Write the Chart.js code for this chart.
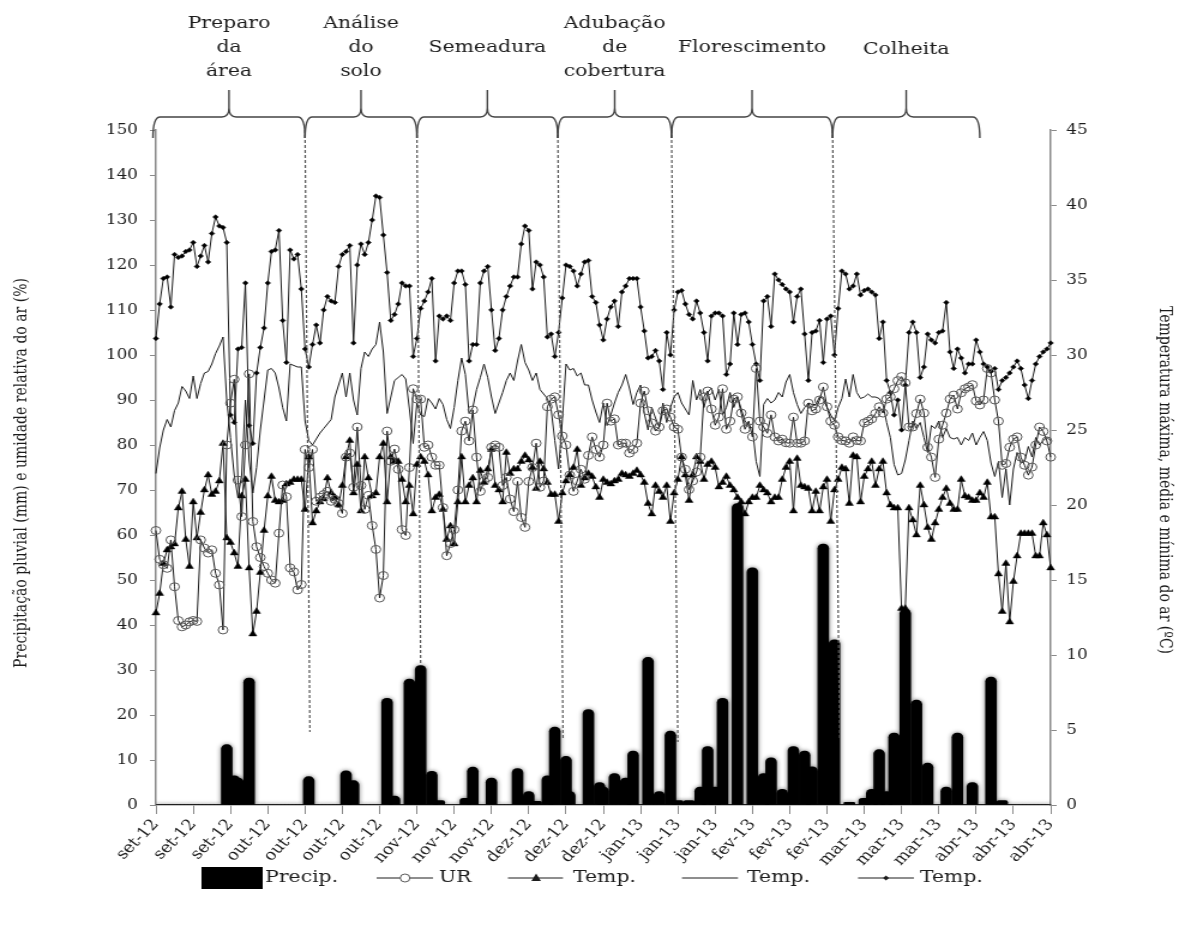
<!DOCTYPE html>
<html>
<head>
<meta charset="utf-8">
<script src="https://cdn.jsdelivr.net/npm/chart.js@4.4.1/dist/chart.umd.min.js"></script>
<style>
  html, body { margin: 0; padding: 0; background: #fff; overflow: hidden; }
  /* the original figure is stretched sideways, so the whole canvas is too */
  #wrap { width: 988px; height: 944px; transform: scaleX(1.19939); transform-origin: 0 0; }
</style>
</head>
<body>
<div id="wrap"><canvas id="chart" width="988" height="944"></canvas></div>
<script>
// eixo x: um ponto por dia, rótulo a cada 10 dias
const tickLabels = ['set-12','set-12','set-12','out-12','out-12','out-12','out-12',
  'nov-12','nov-12','nov-12','dez-12','dez-12','dez-12','jan-13','jan-13','jan-13',
  'fev-13','fev-13','fev-13','mar-13','mar-13','mar-13','abr-13','abr-13','abr-13'];

// precipitação pluvial (mm)
const precip = [
  0,0,0,0,0,0,0,0,0,0,
  0,0,0,0,0,0,0,0,0,13.4,
  0,6.5,6,0,0,28.2,0,0,0,0,
  0,0,0,0,0,0,0,0,0,0,
  0,6.3,0,0,0,0,0,0,0,0,
  0,7.6,0,5.4,0,0,0,0,0,0,
  0,0,23.7,0,2,0,0,0,28,0,
  0,31,0,0,7.5,0,1,0,0,0,
  0,0,0,1.5,0,8.4,0,0,0,0,
  6,0,0,0,0,0,0,8.1,0,0,
  3,0,0.8,0,0,6.5,0,17.3,0,0,
  10.8,3,0,0,0,0,21.2,0,0,5,
  4,0,0,7,0,0,6,0,12,0,
  0,0,32.8,0,0,3,0,0,16.4,0,
  1,0,0,1,0,0,4,0,13,0,
  4,0,23.7,0,0,0,67,0,0,0,
  52.7,0,0,7,0,10.5,0,0,3.5,0,
  0,13,0,0,12,0,8.5,0,0,58,
  0,0,36.7,0,0,0,0.6,0,0,0,
  1.5,0,3.5,0,12.3,0,3,0,16,0,
  0,43.5,0,0,23.3,0,0,9.3,0,0,
  0,0,4,0,0,16,0,0,0,5,
  0,0,0,0,28.4,0,0,1,0,0,
  0,0,0,0,0,0,0,0,0,0,
  0
];

// umidade relativa do ar (%)
const ur = [
  61,54.6,53.4,52.6,58.9,48.5,41,39.6,40,40.7,
  41,40.8,58.9,57.1,56,56.7,51.5,48.9,38.9,80,
  89.3,94.6,72.2,64.1,80,95.8,63,57.4,55,53,
  51.5,50,49.3,60.4,71.1,68.5,52.7,51.8,47.8,49,
  79,75,79,67.5,68.4,69,69.7,67.5,67.9,67,
  64.8,77.3,78.2,70.6,84,71,65.7,68.8,62.1,56.8,
  46,51,83.1,76.4,79.1,74.6,61.2,59.9,75,92.5,
  90.2,90.2,79.5,80,77.3,75.5,75.5,66.1,55.4,58.1,
  61.2,70,83.1,85.3,80.9,87.8,77.3,69.7,72,72.8,
  79.5,80,79.5,71,72.8,68,65.2,71.9,63.9,61.7,
  71.9,75,80.4,70.6,72,88.5,90.2,90.7,86.7,82,
  80,73.3,69.7,72,74.6,72.4,77.7,81.8,79,77.3,
  80,89.3,85.3,85.8,80,80.4,80.4,78.2,79,80.4,
  89.3,92,87.6,84.9,83.1,84,87.6,88,86.2,84,
  83.5,77.3,74.6,70.1,72,74,77.3,90.7,92,88,
  84.4,86.2,92.5,83.5,85.3,90.2,90.7,87.1,83.5,85.3,
  81.8,97,85.3,84,82.6,86.7,81.8,80.9,81.3,80.5,
  80.4,86.2,80.4,80.4,80.9,89.3,87.6,88,90,92.9,
  88.5,85.3,84.4,81.8,81,80.9,80.4,81.8,81,80.9,
  84.9,85.3,85.8,87,88.5,87.1,90.2,90.7,92.5,94.3,
  95.2,93.8,84,84,87,90.2,87.1,79.5,77.3,72.8,
  81.3,84.4,87.1,90.2,91.1,88,91.6,92.5,92.9,93.4,
  89.8,88.9,90,97,96,90,85.3,75.5,75.9,79.5,
  81.3,81.8,77.3,75.5,73.3,75.1,80,84,83,80.9,
  77.3
];

// temperatura mínima (ºC)
const tMin = [
  12.8,14.1,16.1,17,17.2,17.4,19.8,20.9,17.7,15.9,
  20.2,17.8,19.5,21,22,20.7,20.9,21.6,24.1,17.8,
  17.5,16.8,15.9,20.6,21.7,15.8,11.4,12.9,15.5,18.3,
  20.6,21.9,20.3,20.2,20.3,21.4,21.5,21.7,21.7,21.7,
  19.7,23.2,18.8,19.6,20.2,20.4,21.8,20.8,20.5,20,
  21.3,23.2,24.3,20.8,22.7,19.6,23.2,21.8,20.6,20.8,
  23.2,24.1,20.2,23.2,22.9,22.9,21.7,20.2,21.3,19.4,
  22.7,23.2,22.9,22,19.6,20.5,20.7,19.7,17.7,18.6,
  17.4,20.2,23.2,20.2,21.3,21.8,20.2,22.3,21.5,22.4,
  23.7,21.3,21,20.2,23.5,22.1,22.4,22.4,22.9,23.3,
  23,22.5,21.1,22.9,22.4,21.5,20.7,20.7,18.9,20.8,
  21.6,22,22.5,23.7,21.3,21.8,22.1,21.9,21.2,20.5,
  21.7,21.5,21.4,21.6,21.7,22.1,22,21.9,22.1,22.3,
  22,21.5,20.1,19.4,21.3,20.9,20.5,21.3,18.9,20.8,
  21.7,23.2,22,20.3,22,23.2,22.9,21.7,22.7,22.9,
  22.5,21.2,21.5,21.9,21.3,21,20.5,20.2,19.4,20.2,
  20.5,20.5,21.3,21,20.8,20.2,20.5,20.5,21.7,22.5,
  22.9,19.6,23.1,21.3,21.2,21.1,19.6,20.9,19.6,21.2,
  21.7,18.9,21,21.7,22.5,22.4,20.1,23.3,23.2,20.2,
  21.9,22.4,22.9,21.3,22.4,22.9,20.8,20,19.8,19.8,
  13.1,13.1,19.8,19,18,21.3,20,18.5,17.7,18.8,
  19.7,20.5,21.1,20.1,19.7,19.7,21.7,20.6,20.5,20.3,
  20.3,20.8,20.5,21.5,19.2,19.2,15.4,12.9,16.1,12.2,
  14.9,16.6,18.1,18.1,18.1,18.1,16.6,16.6,18.8,18,
  15.8
];

// temperatura média (ºC)
const tMean = [
  22.1,23.8,25,25.7,25.2,26.3,26.8,27.9,27.6,27.1,
  28.6,27.1,28.1,28.8,28.9,29.4,30.1,30.6,31.2,27,
  24.5,22,20.5,22,27,23,20.8,22.5,25,27,
  29,29.1,28.8,27.8,26.5,25.6,29.4,29.3,29.2,29.2,
  25.6,24.3,24,24.4,24.8,25.1,25.4,25.7,27.2,28,
  28.8,27.2,28.8,27,26,29.1,30.2,29.9,30.4,30.7,
  32.2,30.2,26.1,27.2,28.3,28.5,28.7,28.4,26.4,24.1,
  26.8,26,25.9,27.1,26.8,26.4,27.1,26.7,25.7,25.1,
  26.5,28.3,29.8,28.7,26.1,26.5,27.7,28.5,29.4,28.5,
  27.2,26.1,26.8,27.5,28.3,28.8,28.3,29.6,30.7,29.5,
  29,28.3,28.8,27.7,27.4,27.1,26.4,24.3,22.4,25.6,
  29.4,29,29.1,28.6,28.8,28,28,27,26.2,25.5,
  26.8,25.3,26,26.8,27.5,28,28.7,27.8,26.7,27.5,
  28,26.1,25,26.5,25.8,25.2,26.8,25.5,26.5,27.2,
  27.5,26.8,26.4,26,28.3,27,27.7,26.5,27.5,27.8,
  27,27.7,26,26.5,27.5,26.5,27.2,26.4,25.6,25.3,
  25.1,22.9,21.9,26.7,27.1,26.8,27,27.5,27.2,28.2,
  28.7,27.5,26.7,26.1,26.5,26.8,26.7,26.7,27.2,27.1,
  26.5,26,25.6,26.5,27.1,28.4,27.2,28.7,27.5,27.1,
  27.2,27.4,27.2,27.2,27.1,26.7,25.5,24.5,22.7,22,
  22.1,23,24.3,25.6,25.1,25.5,24.5,23.5,25.3,25.1,
  25.6,24.5,25.1,24.5,24.4,24.5,24,24.5,24.3,24.8,
  24,24.5,24.9,24.3,22.8,21.9,22.9,20.5,22.4,20,
  22.4,23.5,22.8,22.9,23.9,23.2,24.5,24,24.3,24.5,
  24.3
];

// temperatura máxima (ºC)
const tMax = [
  31.1,33.4,35.1,35.2,33.2,36.7,36.5,36.6,36.9,37,
  37.5,35.9,36.6,37.3,36.2,38.1,39.2,38.6,38.5,37.5,
  26,25.5,30.4,30.5,34.8,25.3,24.1,28.8,30.5,31.8,
  34.8,36.9,37,38.3,32.3,29.5,37,36.4,36.7,34.4,
  30.4,29.2,30.7,32,30.8,33,33.9,33.6,33.5,35.9,
  36.7,36.9,37.3,30.8,36,37.4,36.7,37.5,39,40.6,
  40.5,38,35.5,32.3,32.7,33.4,34.8,34.6,34.6,29.9,
  31.1,33.1,33.6,34.2,35.1,29.6,32.6,32.4,32.6,32.3,
  34.8,35.6,35.6,34.7,29.6,30.7,30.7,34.8,35.6,35.9,
  33,30.3,31.1,33,33.9,34.6,35.2,35.2,37.4,38.6,
  38.3,34.4,36.2,36,35.2,31.2,31.4,29.9,31.5,33.8,
  36,35.9,35.6,34.6,35.4,36.2,36.3,33.9,33.5,32,
  31,32.4,33.2,33.6,31.9,34.2,34.6,35.1,35.1,35.1,
  33.2,31.6,29.8,29.9,30.3,29.6,27.7,31.5,30,33,
  34.2,34.3,33.4,32.7,32.4,33.6,32.8,31.5,29.6,32.6,
  32.8,32.8,32.6,28.7,29.4,32.8,30.7,32.7,32.8,32.2,
  30.7,29.4,28.3,33.6,33.9,31.9,35.4,35,34.7,34.4,
  34.2,32.2,33.9,34.4,31.4,28.3,31.5,31.6,32.3,29.5,
  32.4,32.6,30,33.1,35.6,35.4,34.4,34.6,35.4,34,
  34.3,34.4,34.2,34,31.1,32.2,28.3,27.5,26,27,
  25,28,31.5,32.2,31.5,28.5,29.2,31.4,31,30.8,
  31.5,31.6,33.5,30.2,29.1,30.4,29.8,28.8,29.4,29.4,
  31,30.2,29.4,29.2,28.9,29.1,27.7,28.3,28.5,28.8,
  29.2,29.6,29.1,28,27.1,28.3,29.4,29.9,30.2,30.4,
  30.8
];

// fases do ciclo (em dias a partir de 1/set)
const phases = [
  { lines: ['Preparo', 'da', 'área'], from: -0.8, to: 40 },
  { lines: ['Análise', 'do', 'solo'], from: 40, to: 70 },
  { lines: ['Semeadura'], from: 70, to: 107.8 },
  { lines: ['Adubação', 'de', 'cobertura'], from: 107.8, to: 138.3 },
  { lines: ['Florescimento'], from: 138.3, to: 181.5 },
  { lines: ['Colheita'], from: 181.5, to: 221 }
];
// linhas tracejadas: [dia no topo, dia na base, valor na base]
const dividers = [[40, 41.3, 16.2], [70, 71, 31.3], [107.8, 109.2, 14.9], [138.3, 140, 14], [181.5, 183.4, 14.9]];

const days = precip.map((_, i) => i);
const FONT = 'DejaVu Serif';
const AXIS = '#8a8a8a';
const INK = '#1c1c1c';

Chart.defaults.font.family = FONT;
Chart.defaults.color = INK;

const barShadow = {
  id: 'barShadow',
  beforeDatasetDraw(chart, args) {
    if (args.meta.type !== 'bar') return;
    const ctx = chart.ctx;
    ctx.save();
    ctx.shadowColor = 'rgba(0,0,0,0.55)';
    ctx.shadowBlur = 4;
  },
  afterDatasetDraw(chart, args) {
    if (args.meta.type === 'bar') chart.ctx.restore();
  }
};

function drawBrace(ctx, x0, x1) {
  const yLine = 117, yEnd = 138, yTip = 90, r = 6;
  const xm = (x0 + x1) / 2;
  ctx.beginPath();
  ctx.moveTo(x0, yEnd);
  ctx.quadraticCurveTo(x0, yLine, x0 + r, yLine);
  ctx.lineTo(xm - r, yLine);
  ctx.quadraticCurveTo(xm, yLine, xm, yLine - 9);
  ctx.lineTo(xm, yTip);
  ctx.moveTo(xm, yLine - 9);
  ctx.quadraticCurveTo(xm, yLine, xm + r, yLine);
  ctx.lineTo(x1 - r, yLine);
  ctx.quadraticCurveTo(x1, yLine, x1, yEnd);
  ctx.stroke();
}

const decor = {
  id: 'decor',
  afterDatasetsDraw(chart) {
    const { ctx, scales: { x, y } } = chart;
    ctx.save();
    ctx.strokeStyle = '#555';
    ctx.lineWidth = 1.2;
    ctx.setLineDash([3, 2]);
    dividers.forEach(([d0, d1, v]) => {
      ctx.beginPath();
      ctx.moveTo(x.getPixelForValue(d0), chart.chartArea.top);
      ctx.lineTo(x.getPixelForValue(d1), y.getPixelForValue(v));
      ctx.stroke();
    });
    ctx.restore();
  },
  afterDraw(chart) {
    const { ctx, scales: { x } } = chart;
    ctx.save();
    // chaves e rótulos das fases
    ctx.strokeStyle = '#444';
    ctx.lineWidth = 1.4;
    ctx.fillStyle = INK;
    ctx.textAlign = 'center';
    ctx.textBaseline = 'alphabetic';
    ctx.font = `17px "${FONT}"`;
    phases.forEach(p => {
      const x0 = x.getPixelForValue(p.from), x1 = x.getPixelForValue(p.to);
      drawBrace(ctx, x0, x1);
      const xm = (x0 + x1) / 2;
      if (p.lines.length === 3) {
        p.lines.forEach((t, i) => ctx.fillText(t, xm, 28 + i * 24));
      } else {
        ctx.fillText(p.lines[0], xm, p.lines[0] === 'Colheita' ? 54 : 52);
      }
    });

    // títulos dos eixos
    ctx.font = `14px "${FONT}"`;
    ctx.textBaseline = 'middle';
    ctx.save();
    ctx.translate(18, 473);
    ctx.rotate(-Math.PI / 2);
    ctx.fillText('Precipitação pluvial (mm) e umidade relativa do ar (%)', 0, 0);
    ctx.restore();
    ctx.save();
    ctx.translate(971, 480);
    ctx.rotate(Math.PI / 2);
    ctx.fillText('Temperatura máxima, média e mínima do ar (ºC)', 0, 0);
    ctx.restore();

    // legenda
    const ly = 878;
    ctx.font = `17px "${FONT}"`;
    ctx.textAlign = 'left';
    ctx.fillStyle = '#000';
    ctx.fillRect(168, ly - 11, 51, 22);
    ctx.fillStyle = INK;
    ctx.fillText('Precip.', 221, ly);
    ctx.strokeStyle = INK;
    ctx.lineWidth = 1;
    const seg = (a, b) => { ctx.beginPath(); ctx.moveTo(a, ly); ctx.lineTo(b, ly); ctx.stroke(); };
    seg(314, 361);
    ctx.beginPath(); ctx.arc(337.7, ly, 4, 0, Math.PI * 2);
    ctx.fillStyle = '#fff'; ctx.fill(); ctx.strokeStyle = '#555'; ctx.stroke();
    ctx.fillStyle = INK; ctx.strokeStyle = INK;
    ctx.fillText('UR', 366, ly);
    seg(423.5, 469.4);
    ctx.beginPath(); ctx.moveTo(447, ly - 4.5); ctx.lineTo(451, ly + 3); ctx.lineTo(443, ly + 3); ctx.closePath(); ctx.fill();
    ctx.fillText('Temp.', 477.7, ly);
    seg(568.6, 615.3);
    ctx.fillText('Temp.', 622.8, ly);
    seg(715.4, 762);
    ctx.beginPath(); ctx.moveTo(738.7, ly - 2.5); ctx.lineTo(741.2, ly); ctx.lineTo(738.7, ly + 2.5); ctx.lineTo(736.2, ly); ctx.closePath(); ctx.fill();
    ctx.fillText('Temp.', 767, ly);
    ctx.restore();
  }
};

const lineBase = { type: 'line', borderColor: INK, borderWidth: 1, tension: 0, clip: false };

new Chart(document.getElementById('chart'), {
  type: 'line',
  data: {
    labels: days,
    datasets: [
      { ...lineBase, label: 'UR', data: ur, yAxisID: 'y', order: 1,
        pointStyle: 'circle', pointRadius: 4, pointBorderWidth: 1,
        pointBorderColor: '#555', pointBackgroundColor: 'rgba(255,255,255,0)' },
      { ...lineBase, label: 'Temp.', data: tMin, yAxisID: 'y2', order: 2,
        pointStyle: 'triangle', pointRadius: 3.8, pointBorderWidth: 0.5,
        pointBorderColor: '#000', pointBackgroundColor: '#000' },
      { ...lineBase, label: 'Temp.', data: tMean, yAxisID: 'y2', order: 3, pointRadius: 0 },
      { ...lineBase, label: 'Temp.', data: tMax, yAxisID: 'y2', order: 4,
        pointStyle: 'rectRot', pointRadius: 2.3, pointBorderWidth: 0.5,
        pointBorderColor: '#000', pointBackgroundColor: '#000' },
      { type: 'bar', label: 'Precip.', data: precip, yAxisID: 'y', order: 10,
        backgroundColor: '#000', barThickness: 9,
        borderRadius: { topLeft: 4.5, topRight: 4.5, bottomLeft: 0, bottomRight: 0 },
        borderSkipped: 'start' }
    ]
  },
  options: {
    responsive: false,
    animation: false,
    devicePixelRatio: 1,
    layout: { padding: { top: 130, left: 0, right: 0, bottom: 0 } },
    plugins: { legend: { display: false }, tooltip: { enabled: false } },
    scales: {
      x: {
        type: 'linear', min: 0, max: 240, offset: false,
        afterFit: s => { s.height = 139; },
        ticks: {
          stepSize: 10, autoSkip: false, maxRotation: 50, minRotation: 50, padding: 2,
          font: { size: 15 }, color: INK,
          callback: v => tickLabels[Math.round(v / 10)] || ''
        },
        grid: { display: true, drawOnChartArea: false, offset: false, tickLength: 9, color: AXIS },
        border: { display: true, color: AXIS, width: 1.5 }
      },
      y: {
        position: 'left', min: 0, max: 150,
        afterFit: s => { s.width = 130; },
        ticks: { stepSize: 10, font: { size: 14 }, color: INK, padding: 10 },
        grid: { display: true, drawOnChartArea: false, tickLength: 5, color: AXIS },
        border: { display: true, color: AXIS, width: 1.5 }
      },
      y2: {
        position: 'right', min: 0, max: 45,
        afterFit: s => { s.width = 112; },
        ticks: { stepSize: 5, font: { size: 14 }, color: INK, padding: 8 },
        grid: { display: true, drawOnChartArea: false, tickLength: 5, color: AXIS },
        border: { display: true, color: AXIS, width: 1.5 }
      }
    }
  },
  plugins: [barShadow, decor]
});
</script>
</body>
</html>
